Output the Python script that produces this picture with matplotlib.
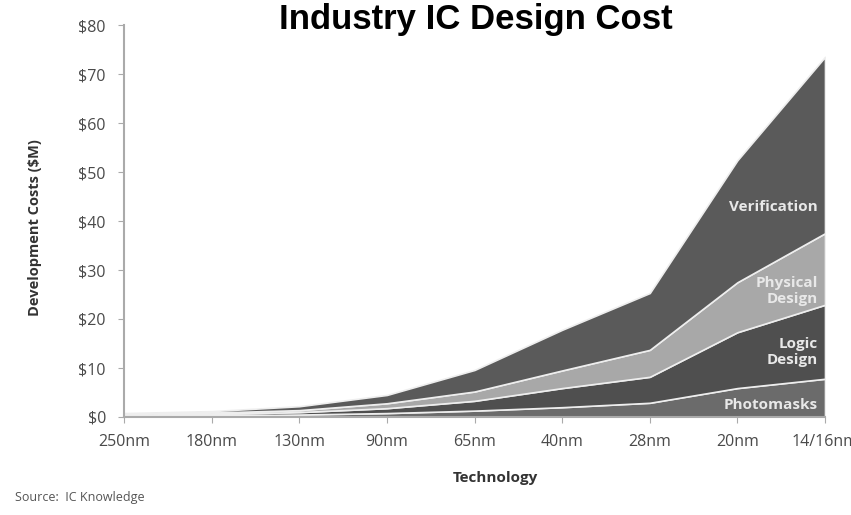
import matplotlib.pyplot as plt
import numpy as np

# === data ($M) ===
nodes = ["250nm", "180nm", "130nm", "90nm", "65nm", "40nm", "28nm", "20nm", "14/16nm"]
photomasks = [0.2, 0.3, 0.5, 0.8, 1.3, 2.0, 2.9, 5.9, 7.8]
logic_design = [0.2, 0.3, 0.5, 1.0, 2.0, 3.9, 5.3, 11.4, 15.1]
physical_design = [0.2, 0.3, 0.4, 1.0, 1.9, 3.6, 5.5, 10.2, 14.6]
verification = [0.2, 0.3, 0.8, 1.7, 4.4, 8.3, 11.6, 24.9, 36.0]

series = [photomasks, logic_design, physical_design, verification]
colors = ["#6b6b6b", "#4f4f4f", "#a8a8a8", "#5a5a5a"]
tick_color = "#4a4a4a"

x = np.arange(len(nodes))

fig = plt.figure(figsize=(8.51, 5.15), dpi=100)
ax = fig.add_axes([124 / 851, 1 - 417 / 515, (825 - 124) / 851, (417 - 25) / 515])

ax.stackplot(x, *series, colors=colors, edgecolor="#eeeeee", linewidth=1.2)

ax.set_xlim(0, len(nodes) - 1)
ax.set_ylim(0, 80)
ax.set_xticks(x)
ax.set_xticklabels(nodes)
ax.set_yticks(range(0, 81, 10))
ax.set_yticklabels([f"${v}" for v in range(0, 81, 10)])
for lbl in ax.get_xticklabels() + ax.get_yticklabels():
    lbl.set_family("Open Sans")
    lbl.set_fontsize(11.5)
    lbl.set_color(tick_color)
ax.tick_params(axis="both", length=4, color="#aaaaaa")
ax.tick_params(axis="y", pad=9)
ax.tick_params(axis="x", pad=8)

for s in ["top", "right"]:
    ax.spines[s].set_visible(False)
for s in ["left", "bottom"]:
    ax.spines[s].set_color("#aaaaaa")
    ax.spines[s].set_linewidth(1.5)

# === in-area labels ===
lab = dict(color="#e8e8e8", fontsize=11, fontweight="bold", family="Open Sans", ha="right")
ax.text(7.92, 42.9, "Verification", va="center", **lab)
ax.text(7.92, 25.7, "Physical\nDesign", va="center", linespacing=1.15, **lab)
ax.text(7.92, 13.3, "Logic\nDesign", va="center", linespacing=1.15, **lab)
ax.text(7.92, 2.4, "Photomasks", va="center", **lab)

# === titles ===
fig.text(476 / 851, 1 - 20 / 515, "Industry IC Design Cost", ha="center", va="center",
         fontsize=25, fontweight="bold", family="Liberation Sans")
fig.text(495 / 851, 1 - 478 / 515, "Technology", ha="center", va="center",
         fontsize=11, fontweight="bold", family="Open Sans", color="#333333")
fig.text(35 / 851, 1 - 228 / 515, "Development Costs ($M)", ha="center", va="center",
         rotation=90, fontsize=10.5, fontweight="bold", family="Open Sans", color="#333333")
fig.text(15 / 851, 1 - 498 / 515, "Source:  IC Knowledge", ha="left", va="center",
         fontsize=9, family="Open Sans", color="#555555")

fig.savefig("out.png", dpi=100)
